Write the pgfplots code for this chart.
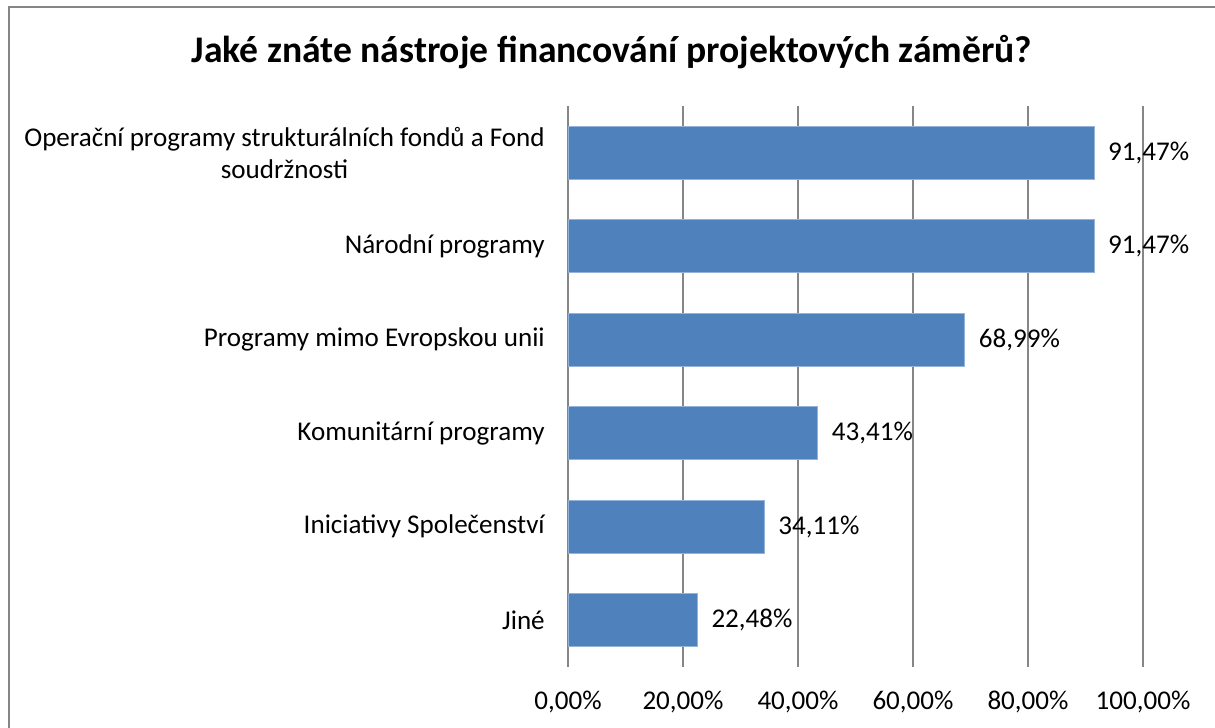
\documentclass[border=0pt]{standalone}
\usepackage{pgfplots}
\pgfplotsset{compat=1.18}
\usepackage{pgfplotstable}
\usepackage{fontspec}
\setmainfont{Carlito}
\definecolor{barblue}{HTML}{4F81BD}
\definecolor{gridgray}{HTML}{868686}
\pgfplotstableread{
x y
91.47 0
91.47 1
68.99 2
43.41 3
34.11 4
22.48 5
}\datatable
\begin{document}
\begin{tikzpicture}
\path[use as bounding box] (0,0) rectangle (911.25pt,546pt);
\draw[gridgray, line width=1.5pt] (6.75pt,0) -- (6.75pt,540.75pt) -- (911.25pt,540.75pt);
\node[font=\bfseries\fontsize{28.2}{32}\selectfont] at (459pt,507pt) {Jaké znáte nástroje financování projektových záměrů?};
\begin{axis}[
  at={(426pt,45.75pt)}, anchor=south west,
  scale only axis, width=431.25pt, height=420.75pt,
  xbar, bar width=0.567,
  xmin=0, xmax=100, ymin=-0.5, ymax=5.5, y dir=reverse,
  ytick={0,...,5},
  yticklabels={{Operační programy strukturálních fondů a Fond\\soudržnosti},{Národní programy},{Programy mimo Evropskou unii},{Komunitární programy},{Iniciativy Společenství},{Jiné}},
  xtick={0,20,...,100},
  xticklabels={{0,00\%},{20,00\%},{40,00\%},{60,00\%},{80,00\%},{100,00\%}},
  major tick length=0pt,
  axis line style={draw=none},
  xmajorgrids, grid style={gridgray, line width=1.1pt},
  tick label style={font=\fontsize{20.3}{24}\selectfont},
  xticklabel style={anchor=base, yshift=-31.5pt},
  yticklabel style={anchor=east, inner sep=0pt, xshift=-17.25pt, align=center},
  point meta=x,
  nodes near coords={\pgfmathprintnumber[fixed,fixed zerofill,precision=2,use comma,assume math mode=true]{\pgfplotspointmeta}\%},
  every node near coord/.append style={anchor=west, inner sep=0pt, xshift=10.5pt, font=\fontsize{20.3}{24}\selectfont, black},
  clip=false,
]
\addplot[fill=barblue, draw=barblue!60!white, line width=0.4pt] table[x=x,y=y] {\datatable};
\end{axis}
\end{tikzpicture}
\end{document}
